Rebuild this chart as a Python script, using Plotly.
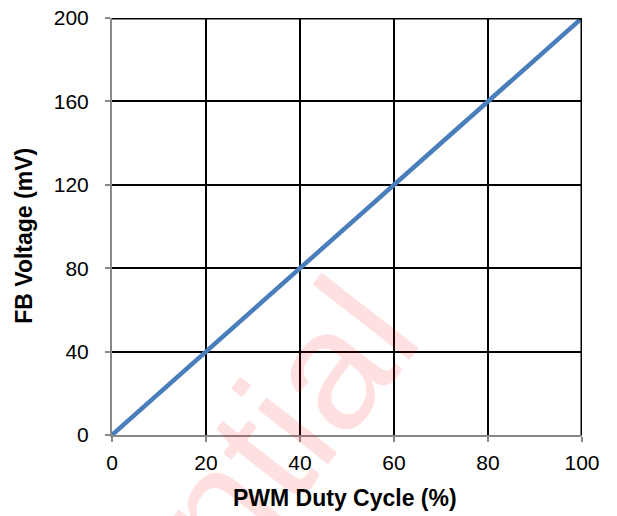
import plotly.graph_objects as go

duty_cycle = [0, 20, 40, 60, 80, 100]
fb_voltage = [0, 40, 80, 120, 160, 200]
x_ticks = [0, 20, 40, 60, 80, 100]
y_ticks = [0, 40, 80, 120, 160, 200]

FONT = "Arial, Liberation Sans, sans-serif"

fig = go.Figure()
fig.add_trace(go.Scatter(x=duty_cycle, y=fb_voltage, mode="lines",
                         line=dict(color="#4A7EBB", width=4.5), showlegend=False))

# faint watermark
fig.add_annotation(text="Confidential", x=-0.020, y=-0.532, xref="paper", yref="paper",
                   xanchor="center", yanchor="middle", showarrow=False,
                   textangle=-52, font=dict(family=FONT, size=170,
                                            color="rgba(255,0,0,0.12)"))

tick_font = dict(family=FONT, size=21, color="black")
title_font = dict(family=FONT, size=23, color="black")

fig.add_annotation(text="<b>PWM Duty Cycle (%)</b>", x=0.496, y=-0.151, xref="paper",
                   yref="paper", xanchor="center", yanchor="middle", showarrow=False,
                   font=title_font)
fig.add_annotation(text="<b>FB Voltage (mV)</b>", x=-0.187, y=0.478, xref="paper",
                   yref="paper", xanchor="center", yanchor="middle", showarrow=False,
                   textangle=-90, font=title_font)

fig.update_xaxes(range=[0, 100], tickvals=x_ticks, showgrid=True, gridcolor="black",
                 gridwidth=2, showline=True, linecolor="#888888", linewidth=2,
                 ticks="outside", ticklen=5, tickcolor="#888888", tickwidth=2,
                 tickfont=tick_font, zeroline=False, ticklabelstandoff=3,
                 ticklabeloverflow="allow", automargin=False)
fig.update_yaxes(range=[0, 200], tickvals=y_ticks, showgrid=True, gridcolor="black",
                 gridwidth=2, showline=True, linecolor="#888888", linewidth=2,
                 ticks="outside", ticklen=5, tickcolor="#888888", tickwidth=2,
                 tickfont=tick_font, zeroline=False, ticklabelstandoff=12,
                 ticklabeloverflow="allow", automargin=False)

fig.add_shape(type="line", xref="x", yref="y", x0=100, x1=100, y0=0, y1=200,
              line=dict(color="black", width=3))
fig.add_shape(type="line", xref="x", yref="y", x0=0, x1=100, y0=200, y1=200,
              line=dict(color="black", width=3))

fig.update_layout(width=617, height=516, margin=dict(l=104, r=43, t=10, b=89),
                  paper_bgcolor="white", plot_bgcolor="white")
fig.write_html("out.html")
